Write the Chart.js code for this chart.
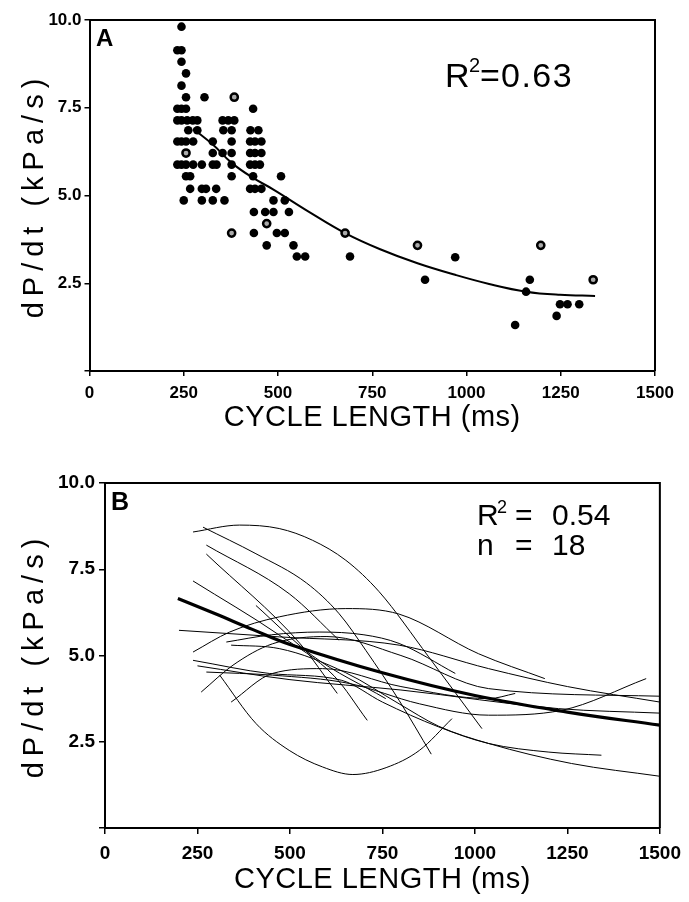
<!DOCTYPE html>
<html>
<head>
<meta charset="utf-8">
<script src="https://cdn.jsdelivr.net/npm/chart.js@4.4.0/dist/chart.umd.min.js"></script>
<style>
  body { margin: 0; background: #fff; width: 689px; height: 902px; overflow: hidden; }
  canvas { position: absolute; left: 0; }
</style>
</head>
<body>
<canvas id="chartA" width="689" height="445" style="top:0"></canvas>
<canvas id="chartB" width="689" height="457" style="top:445px"></canvas>
<script>
// ---- panel A: individual beats (cycle length ms, dP/dt kPa/s)
const aCycle = [244, 233, 244, 244, 256, 244, 256, 305, 434, 233, 244, 256,
  233, 244, 259, 274, 286, 353, 368, 384,
  262, 286, 355, 377, 427, 448,
  233, 244, 256, 275, 327, 377, 426, 439, 456,
  327, 353, 377, 426, 439, 456,
  233, 244, 256, 275, 298, 327, 337, 377, 426, 439, 452,
  256, 267, 377, 434, 508,
  267, 298, 309, 336, 426, 439, 456,
  250, 298, 327, 358, 488, 518,
  436, 466, 488, 529,
  436, 497, 518, 470, 541, 550, 572, 691,
  970, 890, 1168, 1158, 1248, 1268, 1299, 1239, 1129];
const aDpdt = [9.81, 9.14, 9.14, 8.81, 8.48, 8.13, 7.80, 7.80, 7.47, 7.47, 7.47, 7.47,
  7.14, 7.14, 7.14, 7.14, 7.14, 7.14, 7.14, 7.14,
  6.86, 6.86, 6.86, 6.86, 6.86, 6.86,
  6.54, 6.54, 6.54, 6.54, 6.54, 6.54, 6.54, 6.54, 6.54,
  6.21, 6.21, 6.21, 6.21, 6.21, 6.21,
  5.88, 5.88, 5.88, 5.88, 5.88, 5.88, 5.88, 5.88, 5.88, 5.88, 5.88,
  5.55, 5.55, 5.55, 5.55, 5.55,
  5.19, 5.19, 5.19, 5.19, 5.19, 5.19, 5.19,
  4.86, 4.86, 4.86, 4.86, 4.86, 4.86,
  4.53, 4.53, 4.53, 4.53,
  3.93, 3.93, 3.93, 3.58, 3.58, 3.26, 3.26, 3.26,
  3.24, 2.60, 2.60, 2.26, 1.90, 1.90, 1.90, 1.57, 1.31];
// hollow-centred points
const aOpenCycle = [384, 256, 470, 377, 678, 870, 1197, 1336];
const aOpenDpdt = [7.80, 6.21, 4.20, 3.93, 3.93, 3.58, 3.58, 2.60];
// regression curve
const aFitCycle = [275, 327, 377, 434, 488, 580, 678, 771, 870, 970, 1060, 1158, 1248, 1341];
const aFitDpdt = [6.90, 6.45, 5.93, 5.50, 5.17, 4.55, 3.93, 3.47, 3.07, 2.74, 2.48, 2.26, 2.17, 2.14];

// ---- panel B: individual fitted curves, one list per animal
const bCurveCycle = [
  [238, 364, 471, 561, 651, 741, 875, 1019],
  [265, 408, 545, 633, 705, 795, 882],
  [274, 498, 633],
  [274, 526, 628],
  [238, 470, 620, 709],
  [408, 560, 759],
  [200, 471, 795, 1037, 1250, 1500],
  [238, 337, 471, 651, 795, 1010, 1189],
  [328, 450, 579, 700, 795, 947],
  [341, 471, 651, 795, 902, 1037, 1261, 1500],
  [238, 444, 640, 750, 902, 1037, 1200, 1342],
  [260, 346, 453, 600, 800, 1037, 1500],
  [341, 453, 588, 800, 1037, 1109],
  [310, 408, 498, 588, 670, 760, 850, 938],
  [274, 453, 660, 850, 1037, 1234, 1463],
  [250, 500, 800, 1226, 1500]
];
const bCurveDpdt = [
  [8.58, 8.78, 8.68, 8.34, 7.76, 6.85, 4.96, 2.88],
  [8.72, 7.95, 7.10, 6.21, 5.15, 3.70, 2.14],
  [8.20, 6.79, 5.44],
  [7.94, 5.36, 3.90],
  [7.16, 5.60, 4.40, 3.12],
  [6.45, 5.00, 3.75],
  [5.73, 5.54, 5.30, 4.62, 4.10, 3.65],
  [5.10, 5.68, 6.12, 6.36, 6.20, 5.05, 4.33],
  [5.39, 5.60, 5.68, 5.60, 5.35, 4.48],
  [5.30, 5.20, 4.50, 3.60, 2.95, 2.45, 1.87, 1.50],
  [4.86, 4.48, 4.28, 3.65, 2.93, 2.45, 2.20, 2.11],
  [3.94, 4.72, 5.34, 5.55, 5.00, 4.04, 3.82],
  [3.65, 4.48, 4.62, 4.10, 3.75, 3.90],
  [4.43, 3.03, 2.25, 1.77, 1.55, 1.75, 2.25, 3.17],
  [4.52, 4.43, 4.19, 3.60, 3.27, 3.41, 4.33],
  [4.70, 4.30, 4.00, 3.46, 3.33]
];
// pooled curve (thick)
const bMeanCycle = [197, 300, 400, 500, 750, 1000, 1250, 1500];
const bMeanDpdt = [6.65, 6.20, 5.75, 5.32, 4.50, 3.84, 3.36, 2.98];

const xTicks = [0, 250, 500, 750, 1000, 1250, 1500];
const yTicks = [0, 2.5, 5.0, 7.5, 10.0];

const FONT = '"Liberation Sans", Arial, sans-serif';
const pts = (xs, ys) => xs.map((x, i) => ({ x: x, y: ys[i] }));

// frame, axis titles and in-plot labels
const decor = {
  id: 'decor',
  afterDraw(chart, args, o) {
    const { ctx, chartArea: a } = chart;
    ctx.save();
    ctx.strokeStyle = '#000';
    ctx.lineWidth = o.frame;
    ctx.beginPath();
    ctx.moveTo(a.left, a.top);
    ctx.lineTo(a.right, a.top);
    ctx.lineTo(a.right, a.bottom);
    ctx.stroke();

    ctx.fillStyle = '#000';
    ctx.textAlign = 'center';
    ctx.textBaseline = 'middle';
    ctx.font = o.titleSize + 'px ' + FONT;
    ctx.letterSpacing = o.xSpacing + 'px';
    ctx.fillText('CYCLE LENGTH (ms)', (a.left + a.right) / 2, o.xTitleY);

    ctx.save();
    ctx.translate(o.yTitleX, (a.top + a.bottom) / 2);
    ctx.rotate(-Math.PI / 2);
    ctx.letterSpacing = o.ySpacing + 'px';
    ctx.fillText('dP/dt (kPa/s)', 0, 0);
    ctx.restore();

    ctx.textAlign = 'left';
    ctx.textBaseline = 'alphabetic';
    ctx.letterSpacing = '0px';
    ctx.font = 'bold ' + o.panelSize + 'px ' + FONT;
    ctx.fillText(o.panel, o.panelX, o.panelY);

    o.texts.forEach(t => {
      ctx.font = t[3] + 'px ' + FONT;
      ctx.letterSpacing = (t[4] || 0) + 'px';
      ctx.fillText(t[0], t[1], t[2]);
    });
    ctx.restore();
  }
};

function axes(tickFont, tickLen, xPad, yPad, yWidth) {
  return {
    x: {
      type: 'linear', min: 0, max: 1500,
      afterBuildTicks: s => { s.ticks = xTicks.map(v => ({ value: v })); },
      afterFit: s => { s.height = 74; },
      ticks: { color: '#000', font: { family: FONT, size: tickFont, weight: 'bold' }, padding: xPad, maxRotation: 0,
        callback: v => String(v) },
      grid: { drawOnChartArea: false, drawTicks: true, tickLength: tickLen, color: '#000', lineWidth: 1.5 },
      border: { color: '#000', width: 2 }
    },
    y: {
      min: 0, max: 10,
      afterBuildTicks: s => { s.ticks = yTicks.map(v => ({ value: v })); },
      afterFit: s => { s.width = yWidth; },
      ticks: { color: '#000', font: { family: FONT, size: tickFont, weight: 'bold' }, padding: yPad,
        callback: v => v === 0 ? '' : v.toFixed(1) },
      grid: { drawOnChartArea: false, drawTicks: true, tickLength: tickLen, color: '#000', lineWidth: 1.5 },
      border: { color: '#000', width: 2 }
    }
  };
}

new Chart(document.getElementById('chartA'), {
  type: 'scatter',
  data: {
    datasets: [
      { data: pts(aCycle, aDpdt), pointRadius: 4.3, pointBackgroundColor: '#000', pointBorderWidth: 0, order: 1 },
      { data: pts(aOpenCycle, aOpenDpdt), pointRadius: 3.6, pointBackgroundColor: '#aaa', pointBorderColor: '#000', pointBorderWidth: 2.5, order: 0 },
      { data: pts(aFitCycle, aFitDpdt), showLine: true, borderColor: '#000', borderWidth: 2, pointRadius: 0,
        tension: 0.4, order: 2 }
    ]
  },
  options: {
    responsive: false,
    animation: false,
    layout: { padding: { top: 20, right: 34, left: 0, bottom: 0 } },
    plugins: {
      legend: { display: false },
      tooltip: { enabled: false },
      decor: {
        frame: 2, titleSize: 29, xSpacing: 0.5, ySpacing: 6, xTitleY: 418, yTitleX: 35,
        panel: 'A', panelSize: 24, panelX: 96, panelY: 46,
        texts: [['R', 445, 87, 34], ['2', 469, 72, 20], ['=', 480, 87, 34], ['0.63', 501, 87, 34, 1.5]]
      }
    },
    scales: axes(17, 5, 7, 3, 89.5)
  },
  plugins: [decor]
});

const bSets = bCurveCycle.map((xs, i) => ({
  data: pts(xs, bCurveDpdt[i]), showLine: true, borderColor: '#000', borderWidth: 1,
  pointRadius: 0, cubicInterpolationMode: 'monotone'
}));
bSets.push({
  data: pts(bMeanCycle, bMeanDpdt), showLine: true, borderColor: '#000', borderWidth: 3.2,
  pointRadius: 0, tension: 0.4
});

new Chart(document.getElementById('chartB'), {
  type: 'scatter',
  data: { datasets: bSets },
  options: {
    responsive: false,
    animation: false,
    layout: { padding: { top: 38, right: 27, left: 0, bottom: 0 } },
    plugins: {
      legend: { display: false },
      tooltip: { enabled: false },
      decor: {
        frame: 2, titleSize: 29, xSpacing: 0.5, ySpacing: 6, xTitleY: 435, yTitleX: 35,
        panel: 'B', panelSize: 25, panelX: 111, panelY: 65,
        texts: [['R', 477, 80, 30], ['2', 497, 68, 18], ['=', 515, 80, 30], ['0.54', 552, 80, 30],
                ['n', 477, 110, 30], ['=', 515, 110, 30], ['18', 552, 110, 30]]
      }
    },
    scales: axes(19, 6, 8, 4, 105)
  },
  plugins: [decor]
});
</script>
</body>
</html>
